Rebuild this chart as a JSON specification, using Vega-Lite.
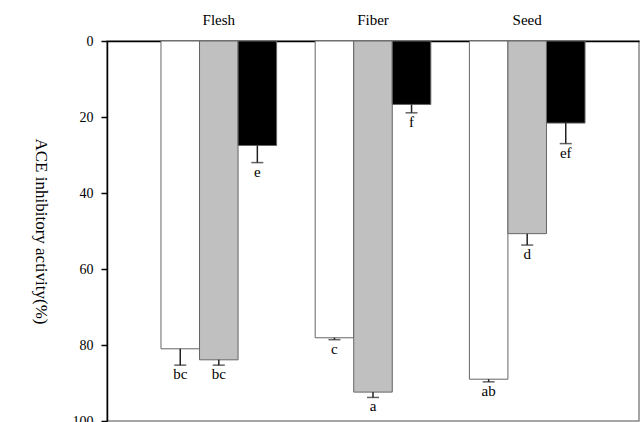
{
  "$schema": "https://vega.github.io/schema/vega-lite/v6.json",
  "width": 532,
  "height": 380,
  "autosize": "none",
  "padding": {"left": 107, "top": 41, "right": 3, "bottom": 1},
  "background": "white",
  "config": {
    "view": {"stroke": "#888888", "strokeWidth": 1.5},
    "font": "Liberation Serif",
    "axis": {"labelFont": "'Liberation Serif', serif", "titleFont": "'Liberation Serif', serif"},
    "text": {"font": "Liberation Serif"}
  },
  "data": {
    "values": [
      {"part": "Flesh", "type": "white", "value": 81.0, "err": 4.3, "label": "bc"},
      {"part": "Flesh", "type": "gray", "value": 83.9, "err": 1.4, "label": "bc"},
      {"part": "Flesh", "type": "black", "value": 27.5, "err": 4.5, "label": "e"},
      {"part": "Fiber", "type": "white", "value": 78.1, "err": 0.5, "label": "c"},
      {"part": "Fiber", "type": "gray", "value": 92.4, "err": 1.4, "label": "a"},
      {"part": "Fiber", "type": "black", "value": 16.7, "err": 2.2, "label": "f"},
      {"part": "Seed", "type": "white", "value": 89.0, "err": 0.7, "label": "ab"},
      {"part": "Seed", "type": "gray", "value": 50.7, "err": 3.0, "label": "d"},
      {"part": "Seed", "type": "black", "value": 21.6, "err": 5.4, "label": "ef"}
    ]
  },
  "transform": [{"calculate": "datum.value + datum.err", "as": "hi"}],
  "encoding": {
    "x": {
      "field": "part",
      "type": "nominal",
      "sort": ["Flesh", "Fiber", "Seed"],
      "scale": {"paddingInner": 0.25, "paddingOuter": 0.35},
      "axis": {
        "orient": "top",
        "title": null,
        "ticks": false,
        "labelAngle": 0,
        "labelFont": "'Liberation Serif', serif",
        "labelFontSize": 15,
        "labelColor": "black",
        "labelPadding": 14,
        "domainColor": "black",
        "domainWidth": 1.5
      }
    },
    "xOffset": {
      "field": "type",
      "type": "nominal",
      "sort": ["white", "gray", "black"],
      "scale": {"paddingInner": 0, "paddingOuter": 0}
    }
  },
  "layer": [
    {
      "mark": {"type": "bar", "stroke": "#666666", "strokeWidth": 1},
      "encoding": {
        "y": {
          "field": "value",
          "type": "quantitative",
          "scale": {"domain": [0, 100], "reverse": true, "nice": false},
          "axis": {
            "values": [0, 20, 40, 60, 80, 100],
            "grid": false,
            "domainColor": "black",
            "domainWidth": 1.5,
            "tickColor": "black",
            "tickSize": 6,
            "tickWidth": 1.5,
            "labelFont": "'Liberation Serif', serif",
            "labelFontSize": 14,
            "labelColor": "black",
            "labelPadding": 8,
            "title": "ACE inhibitory activity(%)",
            "titleFont": "'Liberation Serif', serif",
            "titleFontSize": 17,
            "titleFontWeight": "normal",
            "titleColor": "black",
            "titleAngle": 90,
            "titleAlign": "center",
            "titleBaseline": "middle",
            "titleX": -67,
            "titleY": 190
          }
        },
        "fill": {
          "field": "type",
          "type": "nominal",
          "scale": {"domain": ["white", "gray", "black"], "range": ["#ffffff", "#c0c0c0", "#000000"]},
          "legend": null
        }
      }
    },
    {
      "mark": {"type": "rule", "color": "#222222", "strokeWidth": 1.5},
      "encoding": {
        "y": {"field": "value", "type": "quantitative"},
        "y2": {"field": "hi"}
      }
    },
    {
      "mark": {"type": "tick", "color": "#222222", "thickness": 1.5, "size": 12, "orient": "horizontal"},
      "encoding": {
        "y": {"field": "hi", "type": "quantitative"}
      }
    },
    {
      "mark": {"type": "text", "font": "Liberation Serif", "fontSize": 15, "color": "black", "baseline": "alphabetic", "dy": 14},
      "encoding": {
        "y": {"field": "hi", "type": "quantitative"},
        "text": {"field": "label"}
      }
    }
  ]
}
